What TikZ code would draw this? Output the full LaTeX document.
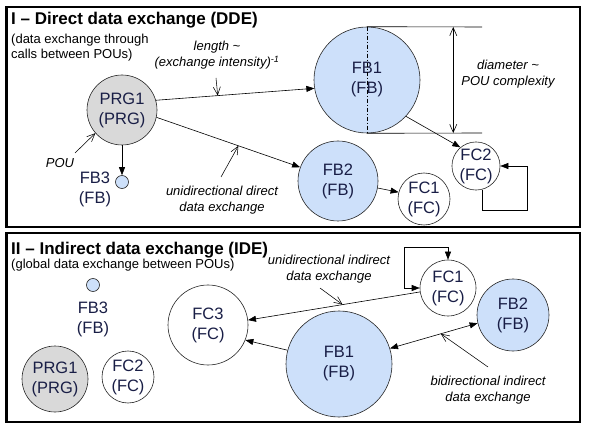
\documentclass[tikz,border=0pt]{standalone}
\usepackage{fontspec}
\setmainfont{Liberation Sans}
\usetikzlibrary{ arrows.meta, % For the arrow tips
               }
\definecolor{fbblue}{RGB}{205,224,250}
\definecolor{prggrey}{RGB}{217,217,217}
\definecolor{poutext}{RGB}{25,30,70}

\tikzstyle{pou} = [circle, draw=black!85, line width=0.6pt, inner sep=0pt, align=center, text=poutext, font=\fontsize{16.5}{20}\selectfont]
\tikzstyle{fb} = [pou, fill=fbblue]
\tikzstyle{prg} = [pou, fill=prggrey]
\tikzstyle{fc} = [pou, fill=white]
\tikzstyle{poulabel} = [align=center, inner sep=0pt, text=poutext, font=\fontsize{16.5}{20}\selectfont]
\tikzstyle{flow} = [-{Triangle[length=8pt, width=6pt]}, line width=0.6pt]
\tikzstyle{bflow} = [{Triangle[length=8pt, width=6pt]}-{Triangle[length=8pt, width=6pt]}, line width=0.6pt]
\tikzstyle{pointer} = [-{Straight Barb[length=8pt, width=7pt]}, line width=0.55pt]
\tikzstyle{dimarrow} = [{Straight Barb[length=8pt, width=7pt]}-{Straight Barb[length=8pt, width=7pt]}, line width=0.6pt]
\tikzstyle{panel} = [draw=black, line width=2.5pt]
\tikzstyle{heading} = [anchor=base west, inner sep=0pt, font=\fontsize{17}{20}\selectfont\bfseries]
\tikzstyle{remark} = [anchor=north west, inner sep=0pt, align=left, font=\fontsize{13}{15.5}\selectfont]
\tikzstyle{note} = [align=center, inner sep=0pt, font=\fontsize{13}{16}\selectfont\itshape]

\begin{document}
\begin{tikzpicture}[x=1pt, y=-1pt]
  \useasboundingbox (0, 0) rectangle (591, 427);

  % I - direct data exchange
  \draw [panel] (6.5, 7) rectangle (580, 227);
  \node (titled) [heading] at (11, 25) {I – Direct data exchange (DDE)};
  \node (subd) [remark] at (11, 33.5) {(data exchange through\\calls between POUs)};

  \node (prg1d) [prg, minimum size=70pt] at (122, 110) {PRG1\\(PRG)};
  \node (fb1d) [fb, minimum size=106pt] at (367, 80) {FB1\\(FB)};
  \node (fb2d) [fb, minimum size=80pt] at (338, 181) {FB2\\(FB)};
  \node (fc1d) [fc, minimum size=52pt] at (424, 199) {FC1\\(FC)};
  \node (fc2d) [fc, minimum size=48pt] at (476, 166) {FC2\\(FC)};
  \node (fb3d) [fb, minimum size=13pt] at (122, 182) {};
  \node (fb3dl) [poulabel] at (95, 189) {FB3\\(FB)};

  \draw [flow] (prg1d.16) -- coordinate[pos=0.39] (lenpt) (fb1d.189);
  \draw [flow] (prg1d.-12) -- coordinate[pos=0.57] (uddpt) (fb2d.160);
  \draw [flow] (prg1d.south) -- (fb3d.north);
  \draw [flow] (fb2d.-10) -- (fc1d.165);
  \draw [flow] (fb1d.-43) -- (fc2d.130);
  \coordinate (loopd) at (527, 210);
  \draw [flow] (fc2d.-75) |- (loopd) |- (fc2d.east);

  % diameter of FB1
  \draw [line width=0.6pt, dash pattern=on 4pt off 2pt on 1pt off 2pt] (fb1d.north) -- (fb1d.south);
  \coordinate (dimtop) at (482, 27);
  \coordinate (dimbot) at (482, 133);
  \draw [line width=0.6pt] (fb1d.north) -- coordinate[pos=0.75] (da) (dimtop);
  \draw [line width=0.6pt] (fb1d.south) -- coordinate[pos=0.75] (db) (dimbot);
  \draw [dimarrow] (da) -- (db);
  \node (diaml) [note] at (508, 74) {diameter \textasciitilde\\POU complexity};

  \node (lenl) [note] at (217, 55) {length \textasciitilde\\(exchange intensity)\textsuperscript{-1}};
  \coordinate (lentail) at (216, 78);
  \draw [pointer] (lentail) -- (lenpt);
  \node (poul) [note] at (60, 163) {POU};
  \coordinate (poutail) at (75, 153);
  \draw [pointer] (poutail) -- (prg1d.221);
  \node (uddl) [note] at (222, 200) {unidirectional direct\\data exchange};
  \coordinate (uddtail) at (221, 177);
  \draw [pointer] (uddtail) -- (uddpt);

  % II - indirect data exchange
  \draw [panel] (6.5, 233) rectangle (580, 422);
  \node (titlei) [heading] at (11, 255) {II – Indirect data exchange (IDE)};
  \node (subi) [remark] at (11, 258.5) {(global data exchange between POUs)};

  \node (fb3i) [fb, minimum size=13pt] at (93, 285) {};
  \node (fb3il) [poulabel] at (93, 319) {FB3\\(FB)};
  \node (prg1i) [prg, minimum size=66pt] at (55, 379) {PRG1\\(PRG)};
  \node (fc2i) [fc, minimum size=52pt] at (128, 377) {FC2\\(FC)};
  \node (fc3i) [fc, minimum size=80pt] at (208, 325) {FC3\\(FC)};
  \node (fb1i) [fb, minimum size=106pt] at (339, 364) {FB1\\(FB)};
  \node (fc1i) [fc, minimum size=56pt] at (448, 288) {FC1\\(FC)};
  \node (fb2i) [fb, minimum size=72pt] at (513, 315) {FB2\\(FB)};

  \draw [flow] (fc1i.188) -- coordinate[pos=0.45] (uipt) (fc3i.7);
  \draw [flow] (fb1i.165) -- (fc3i.-22);
  \draw [bflow] (fb1i.17) -- coordinate[pos=0.58] (bipt) (fb2i.193);
  \coordinate (loopi) at (404, 247);
  \draw [bflow] (fc1i.west) -| (loopi) -| (fc1i.north);

  \node (uil) [note] at (329, 269) {unidirectional indirect\\data exchange};
  \coordinate (uitail) at (320, 288);
  \draw [pointer] (uitail) -- (uipt);
  \node (bil) [note] at (488, 390) {bidirectional indirect\\data exchange};
  \coordinate (bitail) at (488, 367);
  \draw [pointer] (bitail) -- (bipt);
\end{tikzpicture}
\end{document}
